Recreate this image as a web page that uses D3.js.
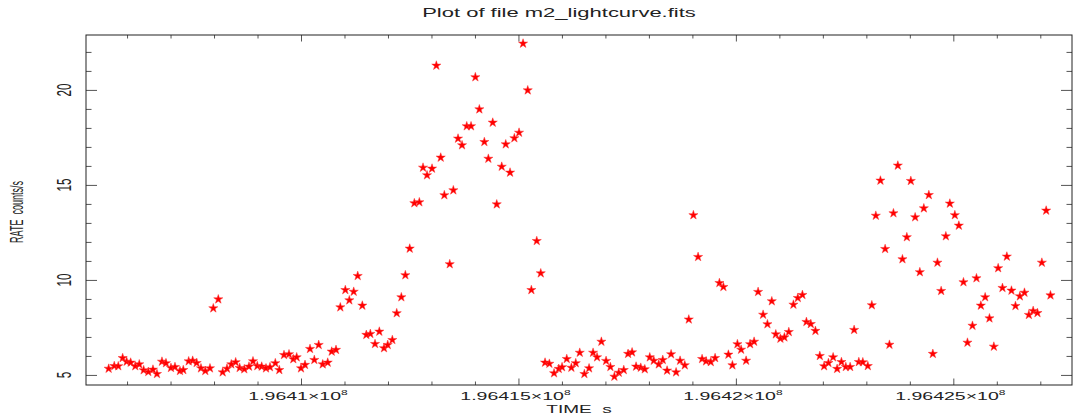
<!DOCTYPE html>
<html>
<head>
<meta charset="utf-8">
<script src="https://cdn.jsdelivr.net/npm/d3@7"></script>
<style>
  html, body { margin: 0; padding: 0; background: #fff; }
  svg { display: block; }
  text { font-family: "Liberation Sans", Arial, Helvetica, sans-serif; fill: #222; }
</style>
</head>
<body>
<svg id="chart" width="1075" height="416"></svg>
<script>
// Light curve of m2_lightcurve.fits: RATE (counts/s) against TIME (s)
const TIME_REF = 196400000; // offsets below are seconds after this
const timeOffsets = [
  5577, 5706, 5798, 5899, 5991, 6083, 6189, 6281, 6382, 6488, 6596, 6688, 6803, 6895, 7010, 7102, 7217, 7293, 7417, 7509,
  7601, 7700, 7799, 7907, 7983, 8098, 8199, 8298, 8397, 8498, 8590, 8696, 8804, 8896, 8995, 9096, 9195, 9287, 9409, 9501,
  9609, 9724, 9823, 9901, 10000, 10092, 10207, 10306, 10407, 10499, 10614, 10706, 10805, 10904, 11019, 11111, 11212, 11304, 11410, 11502,
  11594, 11702, 11801, 11909, 11994, 12100, 12201, 12307, 12399, 12500, 12606, 12721, 12806, 12898, 13013, 13112, 13213, 13296, 13420, 13503,
  13611, 13703, 13811, 13910, 14009, 14101, 14216, 14308, 14409, 14501, 14616, 14708, 14807, 14906, 15014, 15106, 15214, 15297, 15421, 15513,
  15612, 15711, 15819, 15927, 16003, 16111, 16217, 16318, 16410, 16516, 16624, 16716, 16808, 16907, 17015, 17114, 17206, 17307, 17422, 17521,
  17613, 17705, 17813, 17905, 18020, 18112, 18227, 18319, 18418, 18510, 18625, 18717, 18825, 18917, 19023, 19131, 19223, 19315, 19423, 19522,
  19621, 19713, 19828, 19920, 20035, 20120, 20235, 20327, 20419, 20511, 20626, 20725, 20826, 20918, 21024, 21116, 21217, 21323, 21424, 21530,
  21622, 21723, 21829, 21930, 22029, 22128, 22236, 22328, 22427, 22528, 22627, 22719, 22827, 22919, 23034, 23126, 23218, 23324, 23432, 23531,
  23623, 23724, 23830, 23931, 24023, 24122, 24230, 24322, 24437, 24529, 24635, 24720, 24828, 24920, 25035, 25127, 25233, 25325, 25440, 25532,
  25633, 25732, 25831, 25932, 26031, 26130, 26231, 26337, 26429, 26530, 26636, 26737, 26836, 26935, 27036, 27135, 27234
];
const rates = [
  5.33, 5.47, 5.46, 5.89, 5.70, 5.65, 5.46, 5.56, 5.25, 5.16, 5.28, 5.05, 5.70, 5.62, 5.37, 5.42, 5.21, 5.26, 5.72, 5.75,
  5.63, 5.35, 5.21, 5.35, 8.51, 8.98, 5.14, 5.33, 5.56, 5.67, 5.37, 5.30, 5.44, 5.72, 5.47, 5.44, 5.35, 5.41, 5.62, 5.26,
  6.05, 6.09, 5.83, 5.93, 5.35, 5.53, 6.37, 5.79, 6.58, 5.56, 5.65, 6.23, 6.32, 8.56, 9.47, 8.93, 9.38, 10.21, 8.65, 7.11,
  7.16, 6.63, 7.28, 6.41, 6.58, 6.84, 8.25, 9.09, 10.25, 11.65, 14.04, 14.09, 15.91, 15.51, 15.86, 21.28, 16.44, 14.46, 10.83, 14.72,
  17.44, 17.09, 18.09, 18.09, 20.67, 18.98, 17.26, 16.38, 18.28, 13.98, 15.96, 17.14, 15.65, 17.46, 17.75, 22.44, 19.98, 9.47, 12.05, 10.35,
  5.65, 5.59, 5.09, 5.32, 5.41, 5.84, 5.38, 5.62, 6.17, 5.05, 5.35, 6.17, 5.93, 6.75, 5.74, 5.42, 4.91, 5.12, 5.26, 6.11,
  6.19, 5.44, 5.38, 5.30, 5.93, 5.75, 5.56, 5.79, 5.23, 6.09, 5.14, 5.75, 5.51, 7.92, 13.41, 11.21, 5.84, 5.72, 5.68, 5.89,
  9.84, 9.63, 6.07, 5.51, 6.62, 6.33, 5.75, 6.62, 6.75, 9.37, 8.17, 7.67, 8.88, 7.14, 6.91, 6.98, 7.26, 8.70, 9.05, 9.21,
  7.79, 7.68, 7.32, 6.00, 5.46, 5.63, 5.93, 5.32, 5.68, 5.42, 5.42, 7.37, 5.68, 5.67, 5.47, 8.67, 13.38, 15.23, 11.63, 6.59,
  13.51, 16.02, 11.09, 12.25, 15.21, 13.30, 10.41, 13.77, 14.47, 6.11, 10.91, 9.42, 12.30, 14.02, 13.41, 12.86, 9.88, 6.70, 7.59, 10.09,
  8.65, 9.09, 7.98, 6.49, 10.62, 9.58, 11.23, 9.44, 8.63, 9.14, 9.33, 8.16, 8.37, 8.26, 10.91, 13.65, 9.19
];

// Axis ticks
const xMajorTicks = [196410000, 196415000, 196420000, 196425000];
const xMajorMantissa = ["1.9641", "1.96415", "1.9642", "1.96425"];
const xExponent = "8";
const yMajorTicks = [5, 10, 15, 20];

const titleText = "Plot of file m2_lightcurve.fits";
const xLabelText = "TIME\u00a0\u00a0s";
const yLabelText = "RATE\u00a0\u00a0counts/s";

// Plot frame
const frame = { left: 86, right: 1072, top: 35, bottom: 385 };
const textSquash = 0.6; // glyphs are drawn flattened vertically

const points = timeOffsets.map((d, i) => ({ t: TIME_REF + d, r: rates[i] }));

const svg = d3.select("#chart");

const x = d3.scaleLinear()
  .domain([196405056, 196427729])
  .range([frame.left, frame.right]);
const y = d3.scaleLinear()
  .domain([4.47, 22.89])
  .range([frame.bottom, frame.top]);

// minor tick positions
const xMinorTicks = d3.range(196406000, 196428000, 1000).filter(v => !xMajorTicks.includes(v));
const yMinorTicks = d3.range(5, 23, 1).filter(v => !yMajorTicks.includes(v));

const tickColor = "#555";

function styleAxis(g) {
  g.select(".domain").remove();
  g.selectAll(".tick line").attr("stroke", tickColor).attr("stroke-width", 1);
  g.selectAll(".tick text").remove();
}

// x ticks, bottom and top, pointing inwards
[[d3.axisBottom, frame.bottom], [d3.axisTop, frame.top]].forEach(([gen, ypos]) => {
  svg.append("g").attr("transform", `translate(0,${ypos})`)
    .call(gen(x).tickValues(xMinorTicks).tickSize(-3.5).tickFormat(""))
    .call(styleAxis);
  svg.append("g").attr("transform", `translate(0,${ypos})`)
    .call(gen(x).tickValues(xMajorTicks).tickSize(-6.5).tickFormat(""))
    .call(styleAxis);
});

// y ticks, left and right, pointing inwards
[[d3.axisLeft, frame.left], [d3.axisRight, frame.right]].forEach(([gen, xpos]) => {
  svg.append("g").attr("transform", `translate(${xpos},0)`)
    .call(gen(y).tickValues(yMinorTicks).tickSize(-5.5).tickFormat(""))
    .call(styleAxis);
  svg.append("g").attr("transform", `translate(${xpos},0)`)
    .call(gen(y).tickValues(yMajorTicks).tickSize(-11).tickFormat(""))
    .call(styleAxis);
});

// frame box
svg.append("rect")
  .attr("x", frame.left).attr("y", frame.top)
  .attr("width", frame.right - frame.left).attr("height", frame.bottom - frame.top)
  .attr("fill", "none").attr("stroke", "#222").attr("stroke-width", 1);

// x tick labels with power-of-ten exponent
xMajorTicks.forEach((v, i) => {
  const g = svg.append("g")
    .attr("transform", `translate(${x(v) - 3},400) scale(1,${textSquash})`);
  const t = g.append("text").attr("text-anchor", "middle").attr("font-size", 19.5);
  t.append("tspan").text(xMajorMantissa[i] + "\u00d710");
  t.append("tspan").attr("font-size", 12).attr("dy", -9).text(xExponent);
});

// y tick labels, rotated
yMajorTicks.forEach(v => {
  svg.append("g")
    .attr("transform", `translate(70.5,${y(v)}) scale(1,${textSquash}) rotate(-90)`)
    .append("text").attr("text-anchor", "middle").attr("font-size", 19.5).text(v);
});

// axis titles
svg.append("g")
  .attr("transform", `translate(${(frame.left + frame.right) / 2},413) scale(1,${textSquash})`)
  .append("text").attr("text-anchor", "middle").attr("font-size", 19).text(xLabelText);

svg.append("g")
  .attr("transform", `translate(23,${(frame.top + frame.bottom) / 2 + 2}) scale(1,0.5) rotate(-90)`)
  .append("text").attr("text-anchor", "middle").attr("font-size", 18).text(yLabelText);

svg.append("g")
  .attr("transform", `translate(559,17) scale(1,${textSquash})`)
  .append("text").attr("text-anchor", "middle").attr("font-size", 22).text(titleText);

// data markers
const star = d3.symbol().type(d3.symbolStar).size(26);
svg.append("g")
  .selectAll("path")
  .data(points)
  .join("path")
  .attr("transform", d => `translate(${x(d.t)},${y(d.r)})`)
  .attr("d", star)
  .attr("fill", "#ff0000")
  .attr("stroke", "#ff3030")
  .attr("stroke-width", 0.5);
</script>
</body>
</html>
